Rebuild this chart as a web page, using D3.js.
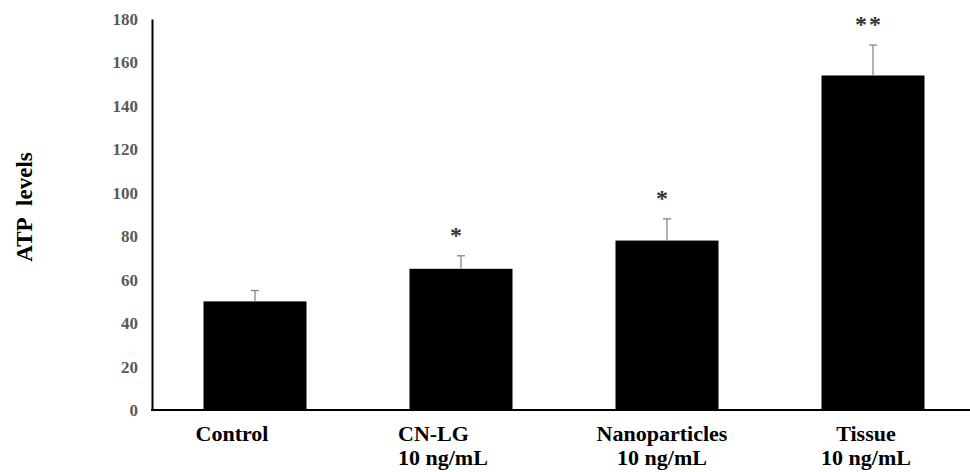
<!DOCTYPE html>
<html>
<head>
<meta charset="utf-8">
<script src="https://cdn.jsdelivr.net/npm/d3@7"></script>
<style>
  body { margin: 0; background: #fff; }
</style>
</head>
<body>
<svg width="970" height="472"></svg>
<script>
"use strict";

// Chart data
var categories = [["Control"], ["CN-LG", "10 ng/mL"], ["Nanoparticles", "10 ng/mL"], ["Tissue", "10 ng/mL"]];
var values = [50, 65, 78, 154];
var errors = [5, 6, 10, 14];
var marks = ["", "*", "*", "**"];
var yTicks = [0, 20, 40, 60, 80, 100, 120, 140, 160, 180];

// Label placement tweaks (layout only)
var labelDx = [-23, -63, -5, -7];
var labelAnchor = ["middle", "start", "middle", "middle"];

var serif = "'Liberation Serif', 'Times New Roman', 'DejaVu Serif', serif";

var svg = d3.select("svg")
    .style("font-family", serif)
    .style("font-weight", "bold");

// Scales
var xScale = d3.scaleBand()
    .domain(d3.range(values.length))
    .range([152, 976])
    .paddingInner(0.5)
    .paddingOuter(0.25);

var yScale = d3.scaleLinear()
    .domain([0, 180])
    .range([410, 19]);

var center = function(i) { return xScale(i) + xScale.bandwidth() / 2; };

// Bars
svg.append("g")
    .selectAll("rect")
    .data(values)
    .enter().append("rect")
    .attr("x", function(d, i) { return xScale(i); })
    .attr("y", function(d) { return yScale(d); })
    .attr("width", xScale.bandwidth())
    .attr("height", function(d) { return yScale(0) - yScale(d); })
    .attr("fill", "#000");

// Error bars
var err = svg.append("g")
    .attr("stroke", "#7f7f7f")
    .attr("stroke-width", 1.2);

values.forEach(function(v, i) {
    var cx = center(i);
    err.append("line")
        .attr("x1", cx).attr("x2", cx)
        .attr("y1", yScale(v)).attr("y2", yScale(v + errors[i]));
    err.append("line")
        .attr("x1", cx - 4).attr("x2", cx + 4)
        .attr("y1", yScale(v + errors[i])).attr("y2", yScale(v + errors[i]));
});

// Significance marks
svg.append("g")
    .selectAll("text")
    .data(marks)
    .enter().append("text")
    .attr("x", function(d, i) { return center(i) - 4; })
    .attr("y", function(d, i) { return yScale(values[i] + errors[i]) - 13; })
    .attr("text-anchor", "middle")
    .style("font-size", "24px")
    .attr("fill", "#333")
    .style("letter-spacing", "2px")
    .text(function(d) { return d; });

// Y axis
var yAxis = d3.axisLeft(yScale)
    .tickValues(yTicks)
    .tickSize(0)
    .tickPadding(14);

var yg = svg.append("g")
    .attr("transform", "translate(152,0)")
    .call(yAxis);
yg.select(".domain").attr("stroke", "#000").attr("stroke-width", 2);
yg.selectAll("text")
    .attr("fill", "#595959")
    .style("font-family", serif)
    .style("font-size", "17px");

// X axis line
svg.append("line")
    .attr("x1", 151).attr("x2", 970)
    .attr("y1", yScale(0)).attr("y2", yScale(0))
    .attr("stroke", "#000")
    .attr("stroke-width", 2);

// Category labels
var labels = svg.append("g")
    .selectAll("text")
    .data(categories)
    .enter().append("text")
    .attr("x", function(d, i) { return center(i) + labelDx[i]; })
    .attr("y", 441)
    .attr("text-anchor", function(d, i) { return labelAnchor[i]; })
    .style("font-size", "22px")
    .attr("fill", "#000");

labels.selectAll("tspan")
    .data(function(d) { return d; })
    .enter().append("tspan")
    .attr("x", function() { return d3.select(this.parentNode).attr("x"); })
    .attr("dy", function(d, j) { return j === 0 ? 0 : 24; })
    .text(function(d) { return d; });

// Y axis label
svg.append("text")
    .attr("transform", "translate(32, 207) rotate(-90)")
    .attr("text-anchor", "middle")
    .style("font-size", "23px")
    .attr("fill", "#000")
    .text("ATP\u00a0 levels");
</script>
</body>
</html>
